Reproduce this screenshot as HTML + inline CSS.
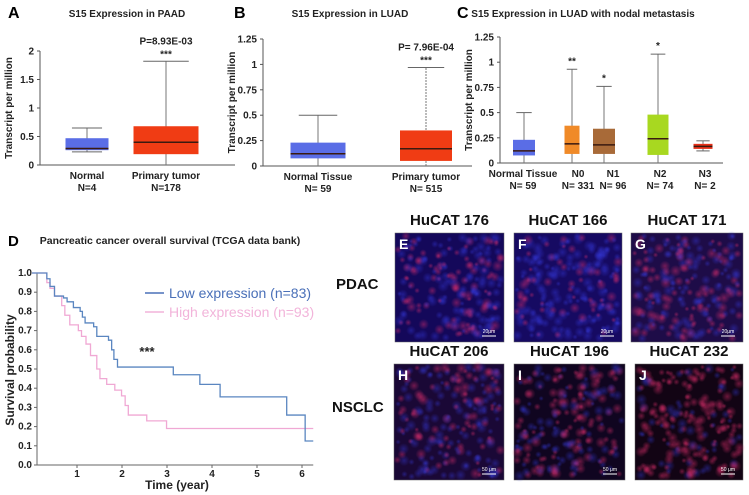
<!DOCTYPE html>
<html><head><meta charset="utf-8"><style>
body{margin:0;background:#fff;}
svg{display:block;font-family:"Liberation Sans",Arial,sans-serif;}
.t{font-weight:bold;font-size:10px;fill:#222}
</style></head><body>
<svg id="fig" width="749" height="495" viewBox="0 0 749 495" xmlns="http://www.w3.org/2000/svg">
<defs>
<radialGradient id="pk"><stop offset="0" stop-color="#e83070" stop-opacity="0.7"/><stop offset="1" stop-color="#e83070" stop-opacity="0"/></radialGradient>
<radialGradient id="bl"><stop offset="0" stop-color="#3a40f0" stop-opacity="0.6"/><stop offset="1" stop-color="#3a40f0" stop-opacity="0"/></radialGradient>
</defs>
<g id="gA"></g>
<g id="gB"></g>
<g id="gC"></g>
<g id="gD"></g>
<g id="gI"></g>
</svg>
<script>
// Panel A data
const catsA=["Normal","Primary tumor"];
const nA=["N=4","N=178"];
const boxA=[[0.23,0.26,0.29,0.47,0.65],[0,0.19,0.40,0.68,1.82]];
const ticksA=[0,0.5,1,1.5,2];
// Panel B data
const catsB=["Normal Tissue","Primary tumor"];
const nB=["N= 59","N= 515"];
const boxB=[[0,0.075,0.12,0.23,0.5],[0,0.05,0.17,0.35,0.97]];
const ticksB=[0,0.25,0.5,0.75,1,1.25];
// Panel C data
const catsC=["Normal Tissue","N0","N1","N2","N3"];
const nC=["N= 59","N= 331","N= 96","N= 74","N= 2"];
const boxC=[[0,0.075,0.12,0.23,0.5],[0,0.09,0.19,0.37,0.93],[0,0.09,0.18,0.34,0.76],[0,0.08,0.24,0.48,1.08],[0.12,0.14,0.165,0.19,0.22]];
const starsC=["","**","*","*",""];
const ticksC=[0,0.25,0.5,0.75,1,1.25];
// Panel D data (step times, survival after step)
const lowT=[0,0.33,0.4,0.5,0.7,0.78,0.92,1.07,1.12,1.18,1.37,1.44,1.7,1.77,1.82,1.9,3.14,3.73,4.18,5.66,6.07];
const lowS=[1,0.97,0.93,0.88,0.87,0.85,0.82,0.8,0.77,0.74,0.72,0.67,0.65,0.6,0.55,0.51,0.47,0.42,0.355,0.26,0.125];
const highT=[0,0.33,0.4,0.5,0.66,0.73,0.84,1.03,1.1,1.2,1.3,1.44,1.51,1.66,1.84,1.99,2.07,2.14,2.55,2.99];
const highS=[1,0.95,0.92,0.88,0.83,0.78,0.73,0.7,0.67,0.63,0.57,0.5,0.45,0.42,0.39,0.36,0.31,0.26,0.23,0.19];
const endT=6.25;
const ticksDy=[0,0.1,0.2,0.3,0.4,0.5,0.6,0.7,0.8,0.9,1.0];
const ticksDx=[1,2,3,4,5,6];

const NS="http://www.w3.org/2000/svg";
function mk(p,tag,at,txt){const e=document.createElementNS(NS,tag);for(const k in at)e.setAttribute(k,at[k]);if(txt!==undefined)e.textContent=txt;p.appendChild(e);return e;}

function boxPanel(g,o){
  const y=v=>o.y0-v*o.k;
  const top=y(o.ticks[o.ticks.length-1]);
  let e=mk(g,'line',{x1:o.ax,y1:top,x2:o.ax,y2:o.y0,stroke:'#555'});
  
  e=mk(g,'line',{x1:o.ax,y1:o.y0,x2:o.axEnd,y2:o.y0,stroke:'#555'});
  
  o.ticks.forEach(t=>{
    mk(g,'line',{x1:o.ax-3,y1:y(t),x2:o.ax,y2:y(t),stroke:'#555'});
    e=mk(g,'text',{x:o.ax-6,y:y(t)+3.5,'text-anchor':'end',class:'t'},String(t));
    
  });
  e=mk(g,'text',{transform:`translate(${o.ax-28},${(top+o.y0)/2}) rotate(-90)`,'text-anchor':'middle',class:'t'},'Transcript per million');
  
  o.boxes.forEach((b,i)=>{
    const cx=o.cx[i],w=o.w[i];
    const bg=mk(g,'g',{});
    
    
    mk(bg,'line',{x1:cx,y1:y(b[0]),x2:cx,y2:y(b[4]),stroke:'#777','stroke-dasharray':o.dash&&o.dash[i]?'2,1':'none'});
    mk(bg,'line',{x1:cx-w*0.35,y1:y(b[4]),x2:cx+w*0.35,y2:y(b[4]),stroke:'#666'});
    if(b[0]>0)mk(bg,'line',{x1:cx-w*0.35,y1:y(b[0]),x2:cx+w*0.35,y2:y(b[0]),stroke:'#666'});
    mk(bg,'rect',{x:cx-w/2,y:y(b[3]),width:w,height:y(b[1])-y(b[3]),fill:o.col[i]});
    mk(bg,'line',{x1:cx-w/2,y1:y(b[2]),x2:cx+w/2,y2:y(b[2]),stroke:'#3a1a10','stroke-width':1.5});
    e=mk(g,'text',{x:o.lx[i],y:o.y0+14,'text-anchor':'middle',class:'t'},o.cats[i]);
    
    e=mk(g,'text',{x:o.lx[i],y:o.y0+26,'text-anchor':'middle',class:'t'},o.ns[i]);
    
    if(o.stars&&o.stars[i]){e=mk(g,'text',{x:cx,y:y(b[4])-5,'text-anchor':'middle',class:'t','font-size':'12px'},o.stars[i]);
      }
  });
  e=mk(g,'text',{x:o.tx,y:17,'text-anchor':'middle',class:'t','font-size':'11px'},o.title);
  
  e=mk(g,'text',{x:o.lbx,y:18,'font-weight':'bold','font-size':'16px'},o.letter);
  
  if(o.p){e=mk(g,'text',{x:o.cx[1],y:y(o.boxes[1][4])-17,'text-anchor':'middle',class:'t'},o.p);
    
    e=mk(g,'text',{x:o.cx[1],y:y(o.boxes[1][4])-4,'text-anchor':'middle',class:'t','font-size':'12px'},'***');
    }
}
boxPanel(document.getElementById('gA'),{ax:40,axEnd:235,y0:165,k:57,ticks:ticksA,boxes:boxA,cats:catsA,ns:nA,cx:[87,166],lx:[87,166],w:[43,65],col:['#5a6de6','#f03c14'],title:'S15 Expression in PAAD',tx:127,letter:'A',lbx:8,p:'P=8.93E-03'});
boxPanel(document.getElementById('gB'),{ax:263,axEnd:472,y0:166,k:101.6,ticks:ticksB,boxes:boxB,cats:catsB,ns:nB,cx:[318,426],lx:[318,426],w:[55,52],col:['#5a6de6','#f03c14'],dash:[0,1],title:'S15 Expression in LUAD',tx:350,letter:'B',lbx:234,p:'P= 7.96E-04'});
boxPanel(document.getElementById('gC'),{ax:500,axEnd:723,y0:163,k:100.8,ticks:ticksC,boxes:boxC,cats:catsC,ns:nC,cx:[524,572,604,658,703],lx:[523,578,613,660,705],w:[22,15,22,21,19],col:['#5a6de6','#f08a28','#a86a38','#a8d820','#e83018'],stars:starsC,title:'S15 Expression in LUAD with nodal metastasis',tx:583,letter:'C',lbx:457});

// Panel D
(function(){
  const g=document.getElementById('gD');
  const X=t=>32+t*45, Y=v=>465-v*192;
  let e=mk(g,'line',{x1:37,y1:Y(1.0),x2:37,y2:465,stroke:'#666'});
  
  e=mk(g,'line',{x1:37,y1:465,x2:X(endT),y2:465,stroke:'#666'});
  
  ticksDy.forEach(t=>{mk(g,'line',{x1:34,y1:Y(t),x2:37,y2:Y(t),stroke:'#666'});
    e=mk(g,'text',{x:32,y:Y(t)+3,'text-anchor':'end',class:'t','font-size':'9px'},t.toFixed(1));
    });
  ticksDx.forEach(t=>{mk(g,'line',{x1:X(t),y1:465,x2:X(t),y2:468,stroke:'#666'});
    e=mk(g,'text',{x:X(t),y:477,'text-anchor':'middle',class:'t','font-size':'9px'},String(t));
    });
  function step(T,S,col,name){
    let d=`M${X(T[0])},${Y(S[0])}`;
    for(let i=1;i<T.length;i++){d+=` H${X(T[i])} V${Y(S[i])}`;}
    d+=` H${X(endT)}`;
    const p=mk(g,'path',{d:d,fill:'none',stroke:col,'stroke-width':1.3});
    
  }
  step(highT,highS,'#f0a8d4','high-expression-curve');
  step(lowT,lowS,'#5a86c0','low-expression-curve');
  e=mk(g,'text',{x:170,y:244,'text-anchor':'middle','font-weight':'bold','font-size':'10.5px',fill:'#222'},'Pancreatic cancer overall survival (TCGA data bank)');
  
  e=mk(g,'text',{x:8,y:246,'font-weight':'bold','font-size':'15px'},'D');
  
  e=mk(g,'text',{transform:'translate(14,370) rotate(-90)','text-anchor':'middle','font-weight':'bold','font-size':'12px',fill:'#222'},'Survival probability');
  
  e=mk(g,'text',{x:177,y:489,'text-anchor':'middle','font-weight':'bold','font-size':'12px',fill:'#222'},'Time (year)');
  
  e=mk(g,'text',{x:147,y:356,'text-anchor':'middle','font-weight':'bold','font-size':'13px',fill:'#222'},'***');
  
  mk(g,'line',{x1:145,y1:293,x2:164,y2:293,stroke:'#4a70b8','stroke-width':1.5});
  e=mk(g,'text',{x:169,y:298,'font-size':'14px',fill:'#4a70b8'},'Low expression (n=83)');
  
  mk(g,'line',{x1:145,y1:312,x2:164,y2:312,stroke:'#f2b4da','stroke-width':1.5});
  e=mk(g,'text',{x:169,y:317,'font-size':'14px',fill:'#f2b4da'},'High expression (n=93)');
  
})();

// Micrographs
(function(){
  const g=document.getElementById('gI');
  const panels=[
    {x:395,y:233,w:109,h:109,l:'E',title:'HuCAT 176',pink:0.5,bg:'#14085a'},
    {x:514,y:233,w:108,h:109,l:'F',title:'HuCAT 166',pink:0.3,bg:'#160a62'},
    {x:631,y:233,w:112,h:109,l:'G',title:'HuCAT 171',pink:0.45,bg:'#1e0c48'},
    {x:394,y:364,w:110,h:116,l:'H',title:'HuCAT 206',pink:0.4,bg:'#1a0836'},
    {x:514,y:364,w:111,h:116,l:'I',title:'HuCAT 196',pink:0.55,bg:'#100520'},
    {x:635,y:364,w:108,h:116,l:'J',title:'HuCAT 232',pink:0.75,bg:'#120414'}];
  let s=7;const rnd=()=>{s=(s*16807)%2147483647;return s/2147483647;};
  panels.forEach(p=>{
    const pg=mk(g,'g',{});
    
    
    mk(pg,'rect',{x:p.x,y:p.y,width:p.w,height:p.h,fill:p.bg,stroke:'#666','stroke-width':0.5});
    for(let i=0;i<220;i++){
      const cx=p.x+3+rnd()*(p.w-6),cy=p.y+3+rnd()*(p.h-6),r=2.5+rnd()*3.5;
      mk(pg,'circle',{cx:cx,cy:cy,r:r,fill:rnd()<p.pink?'url(#pk)':'url(#bl)',opacity:0.6});
    }
    mk(pg,'text',{x:p.x+4,y:p.y+16,'font-weight':'bold','font-size':'14px',fill:'#fff'},p.l);
    mk(pg,'line',{x1:p.x+p.w-22,y1:p.y+p.h-6,x2:p.x+p.w-8,y2:p.y+p.h-6,stroke:'#fff'});
    mk(pg,'text',{x:p.x+p.w-15,y:p.y+p.h-9,'text-anchor':'middle','font-size':'5px',fill:'#fff'},p.y<300?'20μm':'50 μm');
    const t=mk(g,'text',{x:p.x+p.w/2,y:p.y-8,'text-anchor':'middle','font-weight':'bold','font-size':'15px',fill:'#111'},p.title);
    
    
  });
  let e=mk(g,'text',{x:336,y:289,'font-weight':'bold','font-size':'15px',fill:'#111'},'PDAC');
  
  e=mk(g,'text',{x:332,y:412,'font-weight':'bold','font-size':'15px',fill:'#111'},'NSCLC');
  
})();
</script>
</body></html>
